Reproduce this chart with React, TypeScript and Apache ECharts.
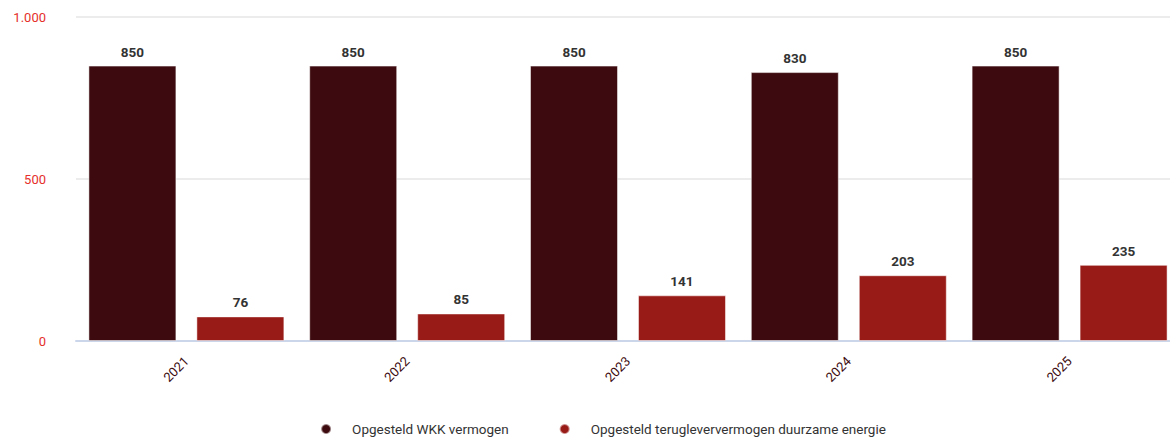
import React, { useEffect, useRef } from "react";
import * as echarts from "echarts";

const categories = ["2021", "2022", "2023", "2024", "2025"];
const wkk = [850, 850, 850, 830, 850];
const duurzaam = [76, 85, 141, 203, 235];
const seriesNames = ["Opgesteld WKK vermogen", "Opgesteld terugleververmogen duurzame energie"];
const colors = ["#3d0b0f", "#991b17"];

export default function App() {
  const ref = useRef<HTMLDivElement>(null);
  useEffect(() => {
    const chart = echarts.init(ref.current!, undefined, { renderer: "svg" });
    const font = "Roboto, 'Noto Sans', sans-serif";
    chart.setOption({
      animation: false,
      textStyle: { fontFamily: font },
      grid: { left: 76, right: 26, top: 17, bottom: 98, containLabel: false },
      legend: {
        top: 417,
        left: "center",
        icon: "circle",
        itemWidth: 10,
        itemHeight: 10,
        itemGap: 50,
        textStyle: { fontSize: 13.5, color: "#333", fontFamily: font, padding: [0, 0, 0, 16] },
        data: seriesNames,
      },
      xAxis: {
        type: "category",
        data: categories,
        axisLine: { lineStyle: { color: "#ccd6eb", width: 2 } },
        axisTick: { show: false },
        axisLabel: { rotate: 45, color: "#3d0b0f", fontSize: 13, margin: 18, fontFamily: font },
      },
      yAxis: {
        type: "value",
        min: 0,
        max: 1000,
        interval: 500,
        axisLine: { show: false },
        axisTick: { show: false },
        splitLine: { lineStyle: { color: "#e6e6e6", width: 1.5 } },
        axisLabel: {
          color: "#e5302b",
          fontSize: 13,
          margin: 30,
          fontFamily: font,
          formatter: (v: number) => String(v).replace(/\B(?=(\d{3})+(?!\d))/g, "."),
        },
      },
      series: [
        {
          name: seriesNames[0],
          type: "bar",
          data: wkk,
          barWidth: 88,
          barGap: "22.7%",
          itemStyle: { color: colors[0], borderColor: "rgba(255,255,255,0.5)", borderWidth: 1 },
          label: { show: true, position: "top", distance: 7, color: "#333", fontWeight: "bold", fontSize: 13.5, fontFamily: font },
        },
        {
          name: seriesNames[1],
          type: "bar",
          data: duurzaam,
          barWidth: 88,
          itemStyle: { color: colors[1], borderColor: "rgba(255,255,255,0.5)", borderWidth: 1 },
          label: { show: true, position: "top", distance: 7, color: "#333", fontWeight: "bold", fontSize: 13.5, fontFamily: font },
        },
      ],
    });
    return () => chart.dispose();
  }, []);
  return (
    <div style={{ position: "absolute", left: 0, top: 0, width: 1170, height: 439, overflow: "hidden" }}>
      <div ref={ref} style={{ width: 1206, height: 439 }} />
    </div>
  );
}
